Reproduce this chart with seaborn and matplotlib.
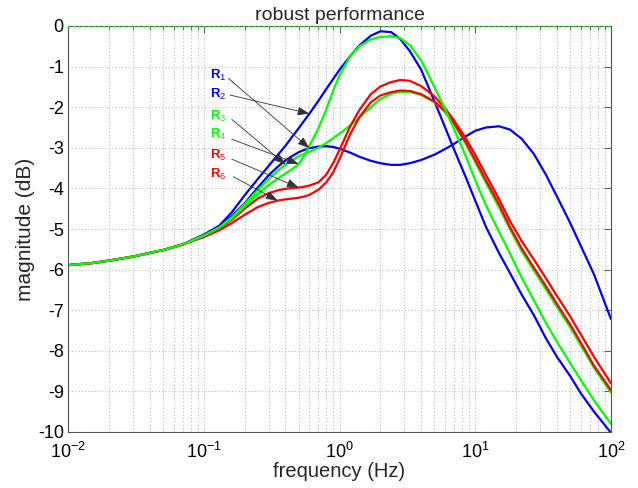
import numpy as np
import pandas as pd
import matplotlib
matplotlib.use("Agg")
import matplotlib.pyplot as plt
import seaborn as sns
from matplotlib.ticker import LogLocator, NullFormatter, FixedLocator, FixedFormatter

# ---------------- data ----------------
freq_hz = [0.01, 0.015, 0.02, 0.03, 0.05, 0.07,
           0.1, 0.13, 0.16, 0.2, 0.25, 0.3, 0.35, 0.4, 0.45, 0.5, 0.55, 0.6,
           0.7, 0.8, 0.9, 1.0, 1.2, 1.4, 1.7, 2.0, 2.4, 2.8, 3.3,
           4, 5, 6, 7, 8.5, 10,
           12, 15, 18, 22, 27, 33,
           40, 50, 60, 75, 100]

low_common = [-5.89, -5.84, -5.78, -5.68, -5.52, -5.38]

r1_db = low_common + [-5.15, -4.94, -4.69, -4.37, -3.98, -3.68, -3.47, -3.31, -3.20, -3.11, -3.05, -3.01,
                      -2.97, -2.96, -2.98, -3.02, -3.12, -3.22, -3.32, -3.38, -3.42, -3.42, -3.38,
                      -3.30, -3.17, -3.03, -2.90, -2.72, -2.58,
                      -2.50, -2.47, -2.55, -2.78, -3.15, -3.65,
                      -4.20, -4.85, -5.42, -6.12, -7.22]
r2_db = low_common + [-5.14, -4.92, -4.60, -4.17, -3.77, -3.45, -3.18, -2.95, -2.72, -2.52, -2.33, -2.16,
                      -1.84, -1.55, -1.30, -1.08, -0.74, -0.48, -0.24, -0.13, -0.15, -0.32, -0.62,
                      -1.08, -1.85, -2.50, -3.05, -3.72, -4.30,
                      -4.95, -5.60, -6.08, -6.62, -7.12, -7.68,
                      -8.15, -8.62, -9.05, -9.50, -10.02]
r3_db = low_common + [-5.16, -4.96, -4.72, -4.39, -4.04, -3.77, -3.57, -3.41, -3.30, -3.21, -3.15, -3.10,
                      -3.00, -2.88, -2.76, -2.65, -2.45, -2.25, -2.00, -1.80, -1.67, -1.62, -1.62,
                      -1.70, -1.88, -2.12, -2.42, -2.90, -3.35,
                      -3.87, -4.47, -5.00, -5.55, -6.02, -6.47,
                      -6.92, -7.42, -7.87, -8.42, -9.03]
r4_db = low_common + [-5.17, -4.97, -4.75, -4.45, -4.14, -3.92, -3.76, -3.63, -3.52, -3.40, -3.20, -2.95,
                      -2.52, -2.05, -1.58, -1.22, -0.74, -0.50, -0.33, -0.27, -0.25, -0.30, -0.47,
                      -0.85, -1.50, -2.05, -2.55, -3.20, -3.80,
                      -4.42, -5.07, -5.60, -6.20, -6.75, -7.30,
                      -7.78, -8.30, -8.72, -9.22, -9.80]
r5_db = low_common + [-5.18, -4.99, -4.78, -4.50, -4.25, -4.12, -4.05, -4.01, -3.99, -3.98, -3.96, -3.93,
                      -3.85, -3.66, -3.37, -3.05, -2.47, -2.07, -1.68, -1.49, -1.38, -1.33, -1.35,
                      -1.48, -1.73, -2.03, -2.33, -2.76, -3.17,
                      -3.67, -4.27, -4.80, -5.30, -5.75, -6.20,
                      -6.65, -7.15, -7.60, -8.15, -8.80]
r6_db = low_common + [-5.20, -5.03, -4.86, -4.65, -4.46, -4.36, -4.30, -4.27, -4.25, -4.23, -4.20, -4.16,
                      -4.03, -3.85, -3.60, -3.28, -2.66, -2.25, -1.88, -1.71, -1.63, -1.59, -1.60,
                      -1.68, -1.86, -2.10, -2.40, -2.86, -3.30,
                      -3.80, -4.40, -4.95, -5.48, -5.95, -6.40,
                      -6.85, -7.35, -7.80, -8.37, -8.97]

series_names = ["R1", "R2", "R3", "R4", "R5", "R6"]
series_values = [r1_db, r2_db, r3_db, r4_db, r5_db, r6_db]
series_colors = {"R1": "#0000ff", "R2": "#0000ff", "R3": "#00ff00",
                 "R4": "#00ff00", "R5": "#ff0000", "R6": "#ff0000"}
draw_order = ["R1", "R2", "R3", "R5", "R6", "R4"]

# frequency at which each label's arrow touches its curve
arrow_freq = {"R1": 0.6, "R2": 0.6, "R3": 0.4, "R4": 0.5, "R5": 0.5, "R6": 0.35}

ref_level_db = 0
ytick_values = [0, -1, -2, -3, -4, -5, -6, -7, -8, -9, -10]
ytick_labels = ["0", "-1", "-2", "-3", "-4", "-5", "-6", "-7", "-8", "-9", "-10"]

# ---------------- figure ----------------
sns.set_style("white")
plt.rcParams["font.family"] = ["Liberation Sans", "DejaVu Sans"]
plt.rcParams["mathtext.fontset"] = "custom"
plt.rcParams["mathtext.rm"] = "Liberation Sans"
plt.rcParams["mathtext.it"] = "Liberation Sans:italic"
plt.rcParams["mathtext.bf"] = "Liberation Sans:bold"

df = pd.concat([pd.DataFrame({"freq": freq_hz, "mag": v, "series": n})
                for n, v in zip(series_names, series_values)], ignore_index=True)

fig = plt.figure(figsize=(6.38, 4.88), dpi=100)
ax = fig.add_axes([68 / 638, 56 / 488, 543 / 638, 406 / 488])
ax.set_xscale("log")

grid_kw = dict(color="#bdbdbd", linestyle=(0, (1, 2)), linewidth=0.8)
ax.grid(True, which="major", axis="both", **grid_kw)
ax.grid(True, which="minor", axis="x", **grid_kw)
ax.set_axisbelow(True)

ax.axhline(ref_level_db, color="#00ff00", linestyle=(0, (1.5, 1.5)), linewidth=1.2, zorder=3)

sns.lineplot(data=df, x="freq", y="mag", hue="series", hue_order=draw_order,
             palette=series_colors, linewidth=1.6, legend=False, ax=ax,
             estimator=None, sort=False)

ax.set_xlim(0.01, 100)
ax.set_ylim(-10, 0)
ax.xaxis.set_major_locator(LogLocator(base=10, numticks=10))
ax.xaxis.set_minor_locator(LogLocator(base=10, subs=np.arange(2, 10), numticks=100))
ax.xaxis.set_minor_formatter(NullFormatter())
ax.yaxis.set_major_locator(FixedLocator(ytick_values))
ax.yaxis.set_major_formatter(FixedFormatter(ytick_labels))

ax.tick_params(which="both", direction="in", top=True, right=True, colors="#444444",
               labelcolor="black", labelsize=13)
ax.tick_params(which="major", length=5, width=0.6)
ax.tick_params(axis="y", which="major", pad=3)
ax.tick_params(axis="x", which="major", pad=7)
ax.tick_params(which="minor", length=3, width=0.5)
for s in ax.spines.values():
    s.set_color("#555555")
    s.set_linewidth(0.8)

ax.set_title("robust performance", fontsize=14, pad=4)
ax.set_xlabel("frequency (Hz)", fontsize=14.5, labelpad=0)
ax.set_ylabel("magnitude (dB)", fontsize=15, labelpad=2)

# labels with arrows
label_pos = {"R1": (0.112, -1.23), "R2": (0.112, -1.68), "R3": (0.112, -2.22),
             "R4": (0.112, -2.68), "R5": (0.112, -3.20), "R6": (0.112, -3.65)}
arrow_start = {"R1": (0.152, -1.29), "R2": (0.156, -1.70), "R3": (0.161, -2.30),
               "R4": (0.161, -2.79), "R5": (0.161, -3.28), "R6": (0.165, -3.71)}
for name, vals in zip(series_names, series_values):
    i = freq_hz.index(arrow_freq[name])
    tip = (freq_hz[i], vals[i])
    lx, ly = label_pos[name]
    ax.text(lx, ly, r"R$_{%s}$" % name[1], color=series_colors[name], fontsize=9.5,
            fontweight="bold", ha="left", va="center", zorder=6)
    ax.annotate("", xy=tip, xytext=arrow_start[name],
                arrowprops=dict(arrowstyle="-|>,head_length=0.6,head_width=0.22",
                                color="#333333", lw=0.6, shrinkA=0, shrinkB=0,
                                mutation_scale=12), zorder=6)

fig.savefig("out.png", dpi=100)
